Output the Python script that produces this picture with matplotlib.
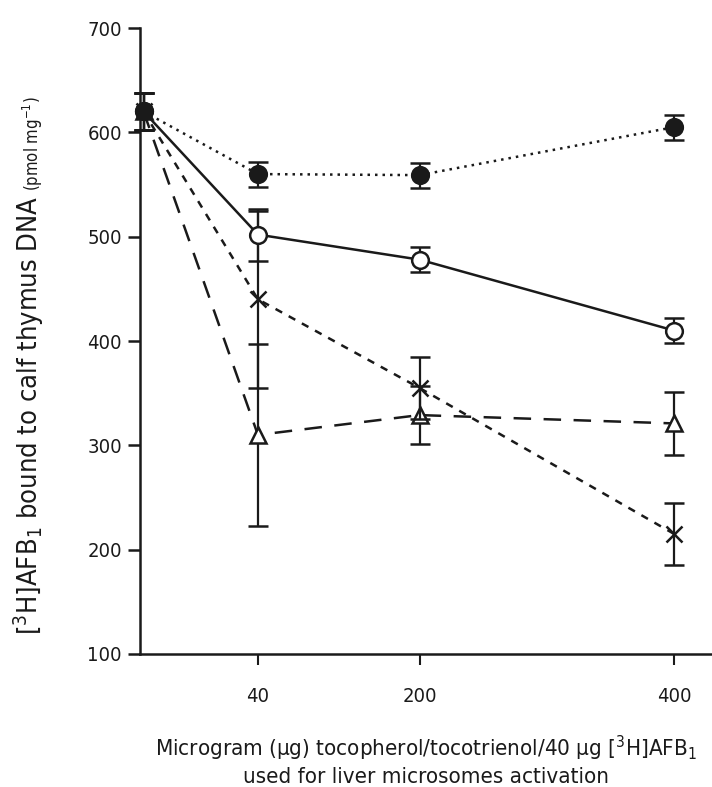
import numpy as np
import matplotlib
matplotlib.use("Agg")
import matplotlib.pyplot as plt

# x categories (µg tocopherol/tocotrienol); control sits on the y axis
x_labels = ["", "40", "200", "400"]
x_pos = [0.03, 1.0, 2.37, 4.53]

# [3H]AFB1 bound to DNA (pmol mg-1), mean and error
filled_y = [620, 560, 559, 605]
filled_err = [18, 12, 12, 12]
open_y = [620, 502, 478, 410]
open_err = [18, 25, 12, 12]
cross_y = [620, 440, 355, 215]
cross_err = [18, 85, 30, 30]
tri_y = [620, 310, 329, 321]
tri_err = [18, 87, 28, 30]

plt.rcParams["font.family"] = ["DejaVu Sans"]
plt.rcParams["font.stretch"] = "condensed"
plt.rcParams["mathtext.fontset"] = "custom"
plt.rcParams["mathtext.rm"] = "DejaVu Sans:stretch=condensed"

ink = "#1a1a1a"
fig = plt.figure(figsize=(7.12, 7.87), dpi=100)
ax = fig.add_axes([0.1966, 0.169, 0.8034, 0.7954])

kw = dict(color=ink, lw=1.8, capsize=7, elinewidth=1.6, capthick=1.6,
          markersize=12, markeredgewidth=1.8)

lines = []
lines.append(ax.errorbar(x_pos, tri_y, yerr=tri_err, ls=(0, (7, 5)), marker="^",
                         mfc="white", mec=ink, zorder=3, **kw))
lines.append(ax.errorbar(x_pos, cross_y, yerr=cross_err, ls=(0, (3, 3)), marker="x",
                         zorder=4, **kw))
lines.append(ax.errorbar(x_pos, open_y, yerr=open_err, ls="-", marker="o",
                         mfc="white", mec=ink, zorder=5, **kw))
lines.append(ax.errorbar(x_pos, filled_y, yerr=filled_err, ls=(0, (1, 2)), marker="o",
                         mfc=ink, mec=ink, zorder=6, **kw))
for eb in lines:
    for art in eb.get_children():
        art.set_clip_on(False)

ax.set_ylim(100, 700)
ax.set_xlim(0, 4.85)
ax.set_yticks(np.arange(100, 701, 100))
ax.set_xticks(x_pos[1:])
ax.set_xticklabels(x_labels[1:])

for s in ["top", "right"]:
    ax.spines[s].set_visible(False)
for s in ["left", "bottom"]:
    ax.spines[s].set_linewidth(1.8)
    ax.spines[s].set_color(ink)
ax.tick_params(axis="y", direction="out", length=9, width=1.8, colors=ink,
               labelsize=14.5, pad=4)
ax.tick_params(axis="x", direction="out", length=8, width=1.5, colors=ink,
               labelsize=14.5, pad=16)

ax.set_xlabel("Microgram (µg) tocopherol/tocotrienol/40 µg [$^3$H]AFB$_1$\n"
              "used for liver microsomes activation",
              fontsize=16, color=ink, labelpad=20, linespacing=1.25)

main = fig.text(0.040, 1 - 635 / 787, "[$^3$H]AFB$_1$ bound to calf thymus DNA",
                rotation=90, ha="center", va="bottom", fontsize=19.5, color=ink)
fig.canvas.draw()
bb = main.get_window_extent().transformed(fig.transFigure.inverted())
fig.text(0.046, bb.y1 + 0.006, "(pmol mg$^{-1}$)", rotation=90, ha="center",
         va="bottom", fontsize=12, color=ink)

fig.savefig("out.png", dpi=100)
